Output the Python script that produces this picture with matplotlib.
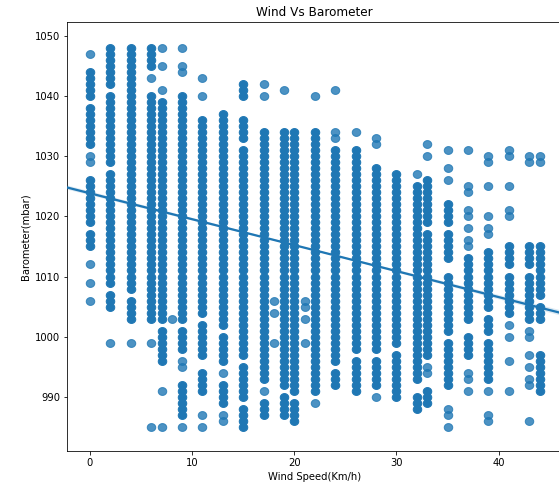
import numpy as np
import matplotlib
matplotlib.use("Agg")
import matplotlib.pyplot as plt
from matplotlib.path import Path

# ---- data (barometer readings per wind speed) ----
wind_speeds = [0, 2, 4, 6, 7, 8, 9, 11, 13, 15, 17, 18, 19, 20, 21, 22, 24,
               26, 28, 30, 32, 33, 35, 37, 39, 41, 43, 44]

b_w0 = [1047, 1044, 1043, 1042, 1041, 1040, 1038, 1037, 1036, 1035, 1034, 1033,
        1032, 1030, 1029, 1026, 1025, 1024, 1023, 1022, 1021, 1020, 1019, 1017,
        1016, 1015, 1012, 1009, 1006]
b_w2 = [1048, 1047, 1046, 1045, 1044, 1043, 1042, 1040, 1039, 1038, 1037, 1036,
        1035, 1034, 1033, 1032, 1031, 1030, 1029, 1027, 1026, 1025, 1024, 1023,
        1022, 1021, 1020, 1019, 1018, 1017, 1016, 1015, 1014, 1013, 1012, 1011,
        1010, 1009, 1007, 1006, 1005, 999]
b_w4 = [1048, 1047, 1046, 1045, 1044, 1043, 1042, 1041, 1040, 1039, 1038, 1037,
        1036, 1035, 1034, 1033, 1032, 1031, 1030, 1029, 1028, 1027, 1026, 1025,
        1024, 1023, 1022, 1021, 1020, 1019, 1018, 1017, 1016, 1015, 1014, 1013,
        1012, 1011, 1010, 1009, 1008, 1006, 1005, 1004, 1003, 999]
b_w6 = [1048, 1047, 1046, 1045, 1043, 1040, 1039, 1038, 1037, 1036, 1035, 1034,
        1033, 1032, 1031, 1030, 1029, 1028, 1027, 1026, 1025, 1024, 1023, 1022,
        1021, 1020, 1019, 1018, 1017, 1016, 1015, 1014, 1013, 1012, 1011, 1010,
        1009, 1008, 1007, 1006, 1005, 1004, 1003, 999, 985]
b_w7 = [1048, 1045, 1041, 1039, 1038, 1037, 1036, 1035, 1034, 1033, 1032, 1031,
        1030, 1029, 1028, 1027, 1026, 1025, 1024, 1023, 1022, 1021, 1020, 1019,
        1018, 1017, 1016, 1015, 1014, 1013, 1012, 1011, 1010, 1009, 1008, 1007,
        1006, 1005, 1004, 1003, 1001, 1000, 999, 998, 997, 996, 991, 985]
b_w8 = [1003]
b_w9 = [1048, 1045, 1044, 1040, 1039, 1038, 1037, 1036, 1035, 1034, 1033, 1032,
        1031, 1030, 1029, 1028, 1027, 1026, 1025, 1024, 1023, 1022, 1021, 1020,
        1019, 1018, 1017, 1016, 1015, 1014, 1013, 1012, 1011, 1010, 1009, 1008,
        1007, 1006, 1005, 1004, 1003, 1001, 1000, 999, 998, 996, 995, 992, 991,
        990, 989, 988, 987, 985]
b_w11 = [1043, 1040, 1036, 1035, 1034, 1033, 1032, 1031, 1030, 1029, 1028, 1027,
         1026, 1025, 1024, 1023, 1022, 1021, 1020, 1019, 1018, 1017, 1016, 1015,
         1014, 1013, 1012, 1011, 1010, 1009, 1008, 1007, 1006, 1005, 1004, 1002,
         1001, 1000, 999, 998, 997, 994, 993, 992, 991, 987, 985]
b_w13 = [1037, 1036, 1035, 1034, 1033, 1032, 1031, 1030, 1029, 1028, 1027, 1026,
         1025, 1024, 1023, 1022, 1021, 1020, 1019, 1018, 1017, 1016, 1015, 1014,
         1013, 1012, 1011, 1010, 1009, 1008, 1007, 1006, 1005, 1004, 1003, 1002,
         1000, 999, 998, 997, 996, 994, 992, 991, 990, 989, 987, 986]
b_w15 = [1042, 1041, 1040, 1036, 1035, 1034, 1033, 1031, 1030, 1029, 1028, 1027,
         1026, 1025, 1024, 1023, 1022, 1021, 1020, 1019, 1018, 1017, 1016, 1015,
         1014, 1013, 1012, 1011, 1010, 1009, 1008, 1007, 1006, 1005, 1004, 1003,
         1002, 1001, 1000, 999, 998, 997, 995, 994, 993, 992, 991, 990, 988, 987,
         986, 985]
b_w17 = [1042, 1040, 1034, 1033, 1032, 1031, 1030, 1029, 1028, 1027, 1026, 1025,
         1024, 1023, 1022, 1021, 1020, 1019, 1018, 1017, 1016, 1015, 1014, 1013,
         1012, 1011, 1010, 1009, 1008, 1007, 1006, 1005, 1004, 1003, 1002, 1001,
         1000, 999, 998, 997, 996, 995, 994, 993, 991, 989, 988, 987]
b_w18 = [1006, 1004, 999]
b_w19 = [1041, 1034, 1033, 1032, 1031, 1030, 1029, 1028, 1027, 1026, 1025, 1024,
         1023, 1022, 1021, 1020, 1019, 1018, 1017, 1016, 1015, 1014, 1013, 1012,
         1011, 1010, 1009, 1008, 1007, 1006, 1005, 1004, 1003, 1002, 1001, 1000,
         999, 998, 997, 996, 995, 994, 993, 992, 990, 989, 988, 987]
b_w20 = [1034, 1033, 1032, 1031, 1030, 1029, 1028, 1027, 1026, 1025, 1024, 1023,
         1022, 1021, 1020, 1019, 1018, 1017, 1016, 1015, 1014, 1013, 1012, 1011,
         1010, 1009, 1008, 1007, 1006, 1005, 1004, 1003, 1002, 1001, 1000, 999,
         998, 997, 996, 995, 994, 993, 992, 991, 989, 988, 987, 986]
b_w21 = [1006, 1005, 1003, 999]
b_w22 = [1040, 1034, 1033, 1032, 1031, 1030, 1029, 1028, 1027, 1026, 1025, 1024,
         1023, 1022, 1021, 1020, 1019, 1018, 1017, 1016, 1015, 1014, 1013, 1012,
         1011, 1010, 1009, 1008, 1007, 1006, 1005, 1004, 1003, 1002, 1001, 1000,
         999, 998, 997, 996, 995, 994, 993, 992, 991, 989]
b_w24 = [1041, 1034, 1033, 1031, 1030, 1029, 1028, 1027, 1026, 1025, 1024, 1023,
         1022, 1021, 1020, 1019, 1018, 1017, 1016, 1015, 1014, 1013, 1012, 1011,
         1010, 1009, 1008, 1007, 1006, 1005, 1004, 1003, 1002, 1001, 1000, 999,
         998, 997, 996, 994, 993, 992]
b_w26 = [1034, 1031, 1030, 1029, 1028, 1027, 1026, 1025, 1024, 1023, 1022, 1021,
         1020, 1019, 1018, 1017, 1016, 1015, 1014, 1013, 1012, 1011, 1010, 1009,
         1008, 1007, 1006, 1005, 1004, 1003, 1002, 1001, 1000, 999, 998, 996, 995,
         994, 993, 992, 991]
b_w28 = [1033, 1032, 1028, 1027, 1026, 1025, 1024, 1023, 1022, 1021, 1020, 1019,
         1018, 1017, 1016, 1015, 1014, 1013, 1012, 1011, 1010, 1009, 1008, 1007,
         1006, 1005, 1004, 1003, 1002, 1001, 1000, 999, 998, 996, 995, 994, 993,
         992, 990]
b_w30 = [1027, 1026, 1025, 1024, 1023, 1022, 1021, 1020, 1019, 1018, 1017, 1016,
         1015, 1014, 1013, 1012, 1011, 1010, 1009, 1008, 1007, 1006, 1005, 1004,
         1003, 1002, 1001, 1000, 999, 997, 996, 995, 994, 993, 992, 991, 990]
b_w32 = [1027, 1025, 1024, 1023, 1022, 1021, 1020, 1019, 1018, 1017, 1016, 1015,
         1014, 1013, 1012, 1011, 1010, 1009, 1008, 1007, 1006, 1005, 1004, 1003,
         1002, 1001, 1000, 999, 998, 997, 996, 995, 994, 993, 990, 989, 988]
b_w33 = [1032, 1030, 1026, 1025, 1024, 1023, 1022, 1021, 1020, 1019, 1017, 1016,
         1015, 1014, 1013, 1012, 1011, 1010, 1009, 1008, 1007, 1006, 1005, 1004,
         1003, 1002, 1001, 1000, 999, 998, 997, 995, 994, 991, 990, 989]
b_w35 = [1031, 1028, 1026, 1022, 1021, 1020, 1019, 1017, 1016, 1015, 1014, 1013,
         1010, 1009, 1008, 1007, 1006, 1005, 1004, 1003, 1002, 1001, 999, 998,
         997, 996, 995, 994, 993, 992, 988, 987, 985]
b_w37 = [1031, 1025, 1024, 1021, 1020, 1018, 1016, 1015, 1013, 1012, 1011, 1010,
         1009, 1008, 1007, 1006, 1005, 1004, 1003, 1000, 999, 998, 997, 994, 993,
         991]
b_w39 = [1030, 1029, 1025, 1020, 1018, 1017, 1014, 1013, 1012, 1011, 1010, 1009,
         1008, 1007, 1006, 1005, 1003, 1002, 1001, 999, 998, 997, 996, 995, 994,
         993, 991, 987, 986]
b_w41 = [1031, 1030, 1025, 1021, 1020, 1015, 1014, 1013, 1012, 1010, 1009, 1008,
         1007, 1006, 1005, 1004, 1002, 1000, 996, 991]
b_w43 = [1030, 1029, 1015, 1014, 1013, 1012, 1010, 1009, 1008, 1007, 1006, 1005,
         1004, 1003, 1001, 1000, 997, 995, 993, 992, 986]
b_w44 = [1030, 1029, 1015, 1014, 1013, 1012, 1011, 1010, 1009, 1008, 1007, 1005,
         1004, 1003, 997, 996, 995, 994, 993, 992, 991]

barometer_columns = [b_w0, b_w2, b_w4, b_w6, b_w7, b_w8, b_w9, b_w11, b_w13,
                     b_w15, b_w17, b_w18, b_w19, b_w20, b_w21, b_w22, b_w24,
                     b_w26, b_w28, b_w30, b_w32, b_w33, b_w35, b_w37, b_w39,
                     b_w41, b_w43, b_w44]

# regression line and its thin confidence band
fit_x = [-2.25, 21.9, 46.2]
fit_y = [1024.8, 1014.4, 1003.9]
band_half = [0.35, 0.1, 0.45]

x_ticks = [0, 10, 20, 30, 40]
y_ticks = [990, 1000, 1010, 1020, 1030, 1040, 1050]

# ---- build points; points inside long runs of readings are many
# overlapping observations in the original and so render fully saturated ----
xs_dense, ys_dense, xs_sparse, ys_sparse = [], [], [], []
for w, col in zip(wind_speeds, barometer_columns):
    vals = set(col)
    for v in col:
        run = 1
        k = v + 1
        while k in vals:
            run += 1
            k += 1
        k = v - 1
        while k in vals:
            run += 1
            k -= 1
        if run >= 3:
            xs_dense.append(w)
            ys_dense.append(v)
        else:
            xs_sparse.append(w)
            ys_sparse.append(v)

# ---- figure ----
W, H, DPI = 559, 490, 72
fig = plt.figure(figsize=(W / DPI, H / DPI), dpi=DPI)
ax = fig.add_axes([67 / W, 39 / H, (562 - 67) / W, (451 - 22) / H])

color = "#1f77b4"
t = np.linspace(0, 2 * np.pi, 60)
ellipse = Path(np.column_stack([1.08 * np.cos(t), np.sin(t)]), closed=True)
ax.scatter(xs_sparse, ys_sparse, s=72, marker=ellipse, color=color, alpha=0.8,
           linewidths=1.0, edgecolors="face", zorder=2)
ax.scatter(xs_dense, ys_dense, s=72, marker=ellipse, color=color, alpha=1.0,
           linewidths=1.0, edgecolors="face", zorder=2)

ax.plot(fit_x, fit_y, color=color, linewidth=2.25, zorder=3)
ax.fill_between(fit_x, np.array(fit_y) - np.array(band_half),
                np.array(fit_y) + np.array(band_half),
                facecolor=color, alpha=0.15, linewidth=0, zorder=3)

ax.set_xlim(-2.25, 46.2)
ax.set_ylim(981.0, 1052.3)
ax.set_xticks(x_ticks)
ax.set_yticks(y_ticks)
ax.tick_params(labelsize=10)
ax.set_title("Wind Vs Barometer", fontsize=12)
ax.set_xlabel("Wind Speed(Km/h)", fontsize=10)
ax.set_ylabel("Barometer(mbar)", fontsize=10)

fig.savefig("out.png", dpi=DPI)
